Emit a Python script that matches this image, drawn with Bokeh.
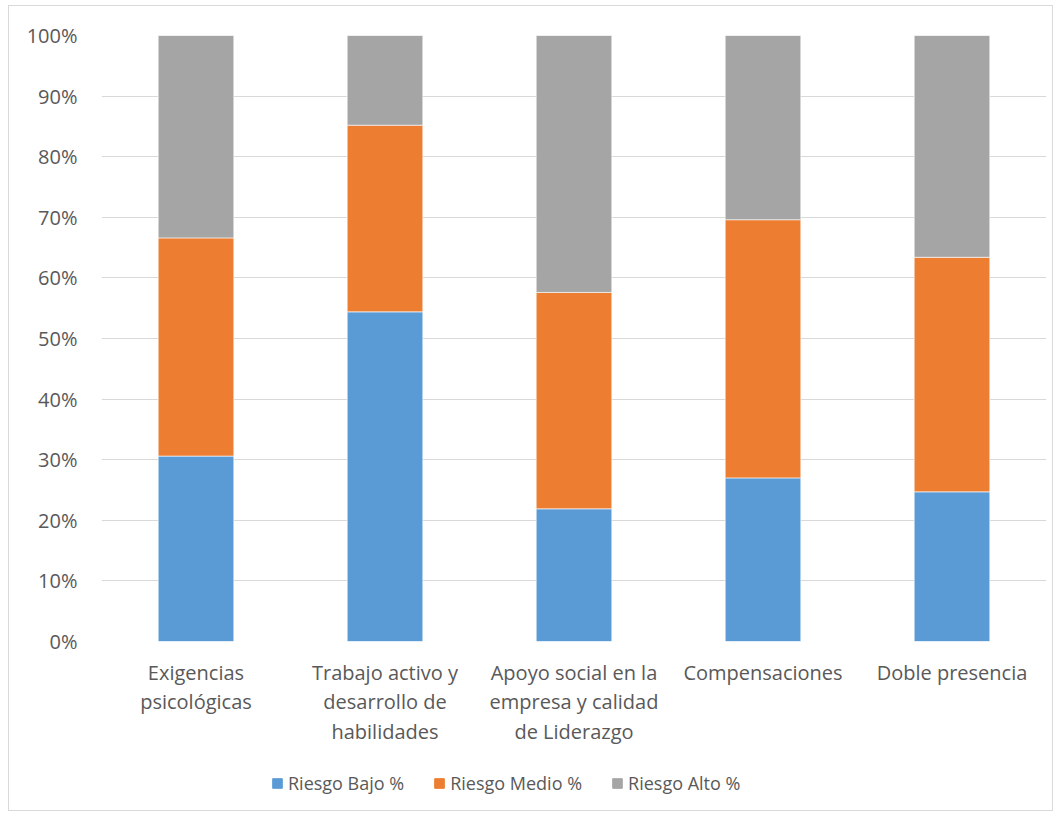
from bokeh.plotting import figure
from bokeh.layouts import column
from bokeh.models import FactorRange, NumeralTickFormatter, Legend, LegendItem, SingleIntervalTicker
from bokeh.embed import file_html
from bokeh.resources import INLINE

categories = ["Exigencias\npsicológicas", "Trabajo activo y\ndesarrollo de\nhabilidades",
              "Apoyo social en la\nempresa y calidad\nde Liderazgo", "Compensaciones", "Doble presencia"]
series_names = ["Riesgo Bajo %", "Riesgo Medio %", "Riesgo Alto %"]
bajo = [30.6, 54.4, 21.9, 27.0, 24.7]
medio = [36.0, 30.8, 35.7, 42.6, 38.7]
alto = [33.4, 14.8, 42.4, 30.4, 36.6]
colors = ["#5B9BD5", "#ED7D31", "#A5A5A5"]

data = {"cat": categories,
        "bajo": [v / 100 for v in bajo],
        "medio": [v / 100 for v in medio],
        "alto": [v / 100 for v in alto]}

FONT = "Open Sans"
TXT = "#595959"

p = figure(x_range=FactorRange(*categories), y_range=(0, 1),
           width=1043, height=750, output_backend="svg", toolbar_location=None,
           min_border_left=92, min_border_right=6, min_border_top=29, min_border_bottom=115)
p.x_range.range_padding = 0
p.outline_line_color = None

r = p.vbar_stack(["bajo", "medio", "alto"], x="cat", width=0.4, source=data,
                 color=colors, line_color="white", line_width=0.6)

p.yaxis.ticker = SingleIntervalTicker(interval=0.1)
p.yaxis.formatter = NumeralTickFormatter(format="0%")
for ax in (p.xaxis, p.yaxis):
    ax.axis_line_color = None
    ax.major_tick_line_color = None
    ax.minor_tick_line_color = None
    ax.major_label_text_color = TXT
    ax.major_label_text_font = FONT
    ax.major_label_text_font_size = "20px"
p.xaxis.major_label_text_line_height = 1.1
p.yaxis.major_label_standoff = 18
p.xaxis.major_label_standoff = 11
p.xgrid.grid_line_color = None
p.ygrid.grid_line_color = "#d9d9d9"
p.ygrid.grid_line_width = 1

# legend strip (same series drawn out of view; only the legend shows)
p2 = figure(x_range=FactorRange(*categories), y_range=(5, 6),
            width=1043, height=54, output_backend="svg", toolbar_location=None,
            x_axis_location=None, y_axis_location=None,
            min_border_left=92, min_border_right=6, min_border_top=0, min_border_bottom=0)
p2.outline_line_color = None
p2.xgrid.grid_line_color = None
p2.ygrid.grid_line_color = None
r2 = p2.vbar_stack(["bajo", "medio", "alto"], x="cat", width=0.4, source=data, color=colors)
legend = Legend(items=[LegendItem(label=n, renderers=[rr]) for n, rr in zip(series_names, r2)],
                orientation="horizontal", location=(170, 15),
                label_text_font=FONT, label_text_font_size="18px", label_text_color=TXT,
                glyph_width=12, glyph_height=12, spacing=29, padding=0, margin=0,
                border_line_color=None, background_fill_alpha=0, label_standoff=5)
p2.add_layout(legend, "center")

layout = column(p, p2, spacing=0)
layout.styles = {"margin-left": "8px", "margin-top": "5px", "border": "1px solid #d9d9d9"}

open("out.html", "w").write(file_html(layout, INLINE))
